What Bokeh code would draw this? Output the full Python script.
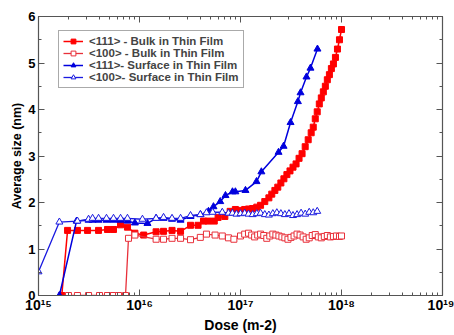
from bokeh.plotting import figure
from bokeh.models import LogAxis, LinearAxis, Legend, LegendItem, Range1d, FixedTicker
from bokeh.embed import file_html
from bokeh.resources import INLINE

# <111> - Bulk in Thin Film (filled red squares)
bulk111_x = [1.7e15, 1.94e15, 2.43e15, 3.06e15, 3.93e15, 4.82e15, 5.53e15, 6.49e15, 7.6e15, 9.0e15,
             1.1e16, 1.46e16, 1.73e16, 2.1e16, 2.55e16, 3.2e16, 3.8e16, 4.3e16, 4.8e16, 5.5e16,
             6.0e16, 7.0e16, 7.9e16, 8.9e16, 1.0e17, 1.10e17, 1.20e17, 1.32e17, 1.45e17, 1.58e17,
             1.74e17, 1.91e17, 2.04e17, 2.19e17, 2.34e17, 2.51e17, 2.69e17, 2.88e17, 3.09e17, 3.31e17,
             3.55e17, 3.80e17, 4.07e17, 4.37e17, 4.68e17, 5.01e17, 5.25e17, 5.50e17, 5.75e17, 6.03e17,
             6.31e17, 6.61e17, 6.92e17, 7.24e17, 7.59e17, 7.94e17, 8.32e17, 8.71e17, 9.12e17, 9.55e17, 1.0e18]
bulk111_y = [0.0, 1.40, 1.40, 1.40, 1.40, 1.42, 1.42, 1.52, 1.47, 1.34,
             1.30, 1.37, 1.38, 1.40, 1.38, 1.51, 1.51, 1.60, 1.60, 1.60,
             1.68, 1.70, 1.81, 1.85, 1.83, 1.85, 1.86, 1.87, 1.90, 1.94,
             2.02, 2.10, 2.18, 2.26, 2.33, 2.42, 2.51, 2.60, 2.68, 2.76,
             2.83, 2.95, 3.05, 3.20, 3.35, 3.50, 3.62, 3.80, 3.95, 4.12,
             4.25, 4.38, 4.50, 4.64, 4.75, 4.88, 4.98, 5.12, 5.30, 5.50, 5.72]

# <100> - Bulk in Thin Film (open red squares)
bulk100_x = [1.98e15, 2.43e15, 3.13e15, 4.02e15, 4.82e15, 5.53e15, 6.2e15, 7.27e15, 7.78e15, 9.0e15,
             1.46e16, 1.73e16, 2.1e16, 2.55e16, 3.2e16, 4.0e16, 4.6e16, 5.6e16, 6.6e16, 7.6e16,
             8.6e16, 1.00e17, 1.10e17, 1.20e17, 1.29e17, 1.38e17, 1.48e17, 1.58e17, 1.70e17, 1.82e17,
             1.95e17, 2.09e17, 2.24e17, 2.40e17, 2.57e17, 2.75e17, 2.95e17, 3.16e17, 3.39e17, 3.63e17,
             3.89e17, 4.17e17, 4.47e17, 4.79e17, 5.13e17, 5.50e17, 5.89e17, 6.31e17, 6.76e17, 7.24e17,
             7.76e17, 8.32e17, 8.91e17, 9.55e17, 1.0e18]
bulk100_y = [0.0, 0.0, 0.0, 0.0, 0.0, 0.0, 0.0, 0.0, 1.23, 1.30,
             1.21, 1.21, 1.23, 1.23, 1.20, 1.25, 1.32, 1.30, 1.28, 1.24,
             1.21, 1.28, 1.32, 1.34, 1.30, 1.26, 1.30, 1.32, 1.29, 1.23,
             1.28, 1.32, 1.30, 1.28, 1.26, 1.24, 1.21, 1.25, 1.28, 1.32,
             1.30, 1.26, 1.21, 1.24, 1.29, 1.31, 1.26, 1.24, 1.27, 1.29,
             1.26, 1.27, 1.28, 1.27, 1.28]

# <111>- Surface in Thin Film (filled blue triangles)
surf111_x = [1.61e15, 2.38e15, 3.13e15, 3.43e15, 3.93e15, 4.71e15, 5.53e15, 6.49e15, 7.6e15, 9.0e15,
             1.2e16, 1.46e16, 1.73e16, 2.1e16, 2.55e16, 3.2e16, 4.02e16, 4.82e16, 5.4e16, 6.3e16,
             7.1e16, 8.33e16, 8.9e16, 1.12e17, 1.44e17, 1.61e17, 2.38e17, 2.67e17, 3.13e17, 3.7e17,
             3.93e17, 4.5e17, 4.93e17, 5.78e17]
surf111_y = [0.0, 1.60, 1.62, 1.62, 1.62, 1.62, 1.62, 1.62, 1.60, 1.56,
             1.55, 1.66, 1.66, 1.64, 1.62, 1.70, 1.74, 1.81, 1.91, 2.02,
             2.15, 2.23, 2.23, 2.26, 2.45, 2.66, 3.08, 3.21, 3.72, 4.17,
             4.36, 4.70, 4.89, 5.30]

# <100>- Surface in Thin Film (open blue triangles)
surf100_x = [1.0e15, 1.61e15, 2.43e15, 3.13e15, 3.43e15, 3.93e15, 4.71e15, 5.53e15, 6.49e15, 7.6e15,
             1.07e16, 1.46e16, 1.73e16, 2.1e16, 2.55e16, 3.2e16, 4.0e16, 4.6e16, 5.3e16, 6.6e16,
             7.6e16, 8.32e16, 9.12e16, 1.0e17, 1.10e17, 1.20e17, 1.32e17, 1.45e17, 1.58e17, 1.74e17,
             1.91e17, 2.09e17, 2.29e17, 2.51e17, 2.75e17, 3.02e17, 3.31e17, 3.63e17, 3.98e17, 4.37e17,
             4.79e17, 5.25e17, 5.75e17]
surf100_y = [0.51, 1.58, 1.60, 1.64, 1.66, 1.66, 1.66, 1.66, 1.66, 1.66,
             1.64, 1.66, 1.68, 1.66, 1.66, 1.72, 1.74, 1.78, 1.79, 1.79,
             1.77, 1.77, 1.75, 1.76, 1.77, 1.75, 1.74, 1.76, 1.77, 1.74,
             1.73, 1.76, 1.78, 1.76, 1.74, 1.76, 1.72, 1.74, 1.77, 1.75,
             1.79, 1.78, 1.81]

x_ticks = [1e15, 1e16, 1e17, 1e18, 1e19]
x_tick_labels = ["10¹⁵", "10¹⁶", "10¹⁷", "10¹⁸", "10¹⁹"]
x_minor = [m * 10.0 ** e for e in range(15, 19) for m in range(2, 10)]
y_ticks = [0, 1, 2, 3, 4, 5, 6]
y_minor = [0.5, 1.5, 2.5, 3.5, 4.5, 5.5]

RED = "#ff0000"
RED_OPEN = "#e8303a"
BLUE = "#0000dd"
BLUE_OPEN = "#1a1ae0"
FONT = "Liberation Sans"

p = figure(width=454, height=335, x_axis_type="log", output_backend="svg",
           toolbar_location=None, x_range=Range1d(1e15, 1e19), y_range=Range1d(0, 6),
           min_border_left=38, min_border_right=12, min_border_top=16, min_border_bottom=37)
p.background_fill_color = "white"
p.border_fill_color = "white"
p.outline_line_color = "#555555"
p.outline_line_width = 1.2
p.xgrid.visible = False
p.ygrid.visible = False

r1l = p.line(bulk111_x, bulk111_y, line_color=RED, line_width=1.5)
r1m = p.scatter(bulk111_x, bulk111_y, marker="square", size=6, fill_color=RED, line_color=RED)
r2l = p.line(bulk100_x, bulk100_y, line_color=RED_OPEN, line_width=1.3)
r2m = p.scatter(bulk100_x, bulk100_y, marker="square", size=6, fill_color="white", line_color=RED_OPEN, line_width=1)
r3l = p.line(surf111_x, surf111_y, line_color=BLUE, line_width=1.5)
r3m = p.scatter(surf111_x, surf111_y, marker="triangle", size=7, fill_color=BLUE, line_color=BLUE)
r4l = p.line(surf100_x, surf100_y, line_color=BLUE_OPEN, line_width=1.3)
r4m = p.scatter(surf100_x, surf100_y, marker="triangle", size=7, fill_color="white", line_color=BLUE_OPEN, line_width=1)

def style_axis(ax, labels=True):
    ax.major_tick_in = 6
    ax.major_tick_out = 0
    ax.minor_tick_in = 3
    ax.minor_tick_out = 0
    ax.axis_line_color = "#555555"
    ax.major_tick_line_color = "#555555"
    ax.minor_tick_line_color = "#555555"
    if labels:
        ax.major_label_text_font = FONT
        ax.major_label_text_font_style = "bold"
        ax.major_label_text_font_size = "13px"
        ax.major_label_text_color = "black"
        ax.major_label_standoff = 3
        ax.axis_label_text_font = FONT
        ax.axis_label_text_font_style = "bold"
        ax.axis_label_text_font_size = "14px"
        ax.axis_label_text_color = "black"
        ax.axis_label_standoff = 1
    else:
        ax.major_label_text_color = None
        ax.major_label_text_font_size = "1px"
        ax.major_label_standoff = 0

xa = p.xaxis[0]
xa.ticker = FixedTicker(ticks=x_ticks, minor_ticks=x_minor)
xa.major_label_overrides = dict(zip(x_ticks, x_tick_labels))
xa.axis_label = "Dose (m-2)"
style_axis(xa)
xa.major_label_text_font_size = "14px"
xa.major_label_standoff = 1
ya = p.yaxis[0]
ya.ticker = FixedTicker(ticks=y_ticks, minor_ticks=y_minor)
ya.axis_label = "Average size (nm)"
style_axis(ya)
ya.axis_label_text_font_size = "12.5px"

top = LogAxis(ticker=FixedTicker(ticks=x_ticks, minor_ticks=x_minor))
style_axis(top, labels=False)
p.add_layout(top, "above")
right = LinearAxis(ticker=FixedTicker(ticks=y_ticks, minor_ticks=y_minor))
style_axis(right, labels=False)
p.add_layout(right, "right")

legend = Legend(items=[
    LegendItem(label="<111> - Bulk in Thin Film", renderers=[r1l, r1m]),
    LegendItem(label="<100> - Bulk in Thin Film", renderers=[r2l, r2m]),
    LegendItem(label="<111>- Surface in Thin Film", renderers=[r3l, r3m]),
    LegendItem(label="<100>- Surface in Thin Film", renderers=[r4l, r4m]),
], location=(20, 207))
legend.label_text_font = FONT
legend.label_text_font_style = "bold"
legend.label_text_font_size = "11.5px"
legend.label_height = 12
legend.glyph_height = 12
legend.glyph_width = 20
legend.spacing = 0
legend.padding = 4
legend.margin = 0
legend.label_standoff = 6
legend.border_line_color = "#555555"
legend.border_line_width = 1.2
legend.background_fill_alpha = 1
p.add_layout(legend)

open("out.html", "w").write(file_html(p, INLINE))
